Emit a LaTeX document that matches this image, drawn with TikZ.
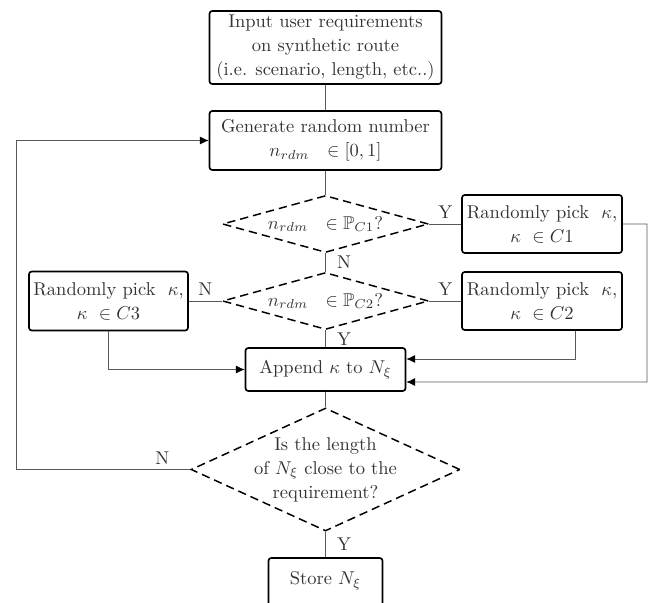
\documentclass[tikz,border=0pt]{standalone}
\usepackage{amssymb}
\usepackage{tikz}
\usetikzlibrary{arrows.meta, shapes.geometric, positioning}

\newcommand{\px}{0.54pt}
\tikzset{
  procbox/.style={draw, line width=0.9pt, rounded corners=1.5pt, align=center, text=black!80, inner sep=0pt},
  testdiam/.style={diamond, draw, dash pattern=on 4.5pt off 2.7pt, line width=0.8pt, align=center, text=black!80, inner sep=0pt},
  link/.style={draw=black!65, line width=0.45pt},
  lbl/.style={text=black!80, inner sep=1pt}
}

\begin{document}
\begin{tikzpicture}[x=\px, y=-\px, >={Latex[length=4.8pt, width=4.4pt, color=black]}]
                        \useasboundingbox (0,0) rectangle (651,602);
                        \node[procbox, minimum width=232*\px, minimum height=73*\px] (in) at (325.5, 47.5) {Input user requirements\\[1pt] on synthetic route\\[1pt] (i.e. scenario, length, etc..)};
                        \node[procbox, minimum width=232*\px, minimum height=59*\px] (gen) at (325.5, 140.5) {Generate random number\\[1pt] $n_{rdm}\ \ \in[0,1]$};
                        \node[testdiam, aspect=3.6, minimum width=206*\px, minimum height=57*\px] (d1) at (325.5, 224) {$n_{rdm}\ \ \in\mathbb{P}_{C1}$?};
                        \node[procbox, minimum width=160*\px, minimum height=58*\px] (c1) at (542, 224) {Randomly pick\ \ $\kappa$,\\[1pt] $\kappa\ \in C1$};
                        \node[testdiam, aspect=3.6, minimum width=206*\px, minimum height=57*\px] (d2) at (325.5, 301) {$n_{rdm}\ \ \in\mathbb{P}_{C2}$?};
                        \node[procbox, minimum width=160*\px, minimum height=58*\px] (c2) at (542, 301) {Randomly pick\ \ $\kappa$,\\[1pt] $\kappa\ \in C2$};
                        \node[procbox, minimum width=159*\px, minimum height=59*\px] (c3) at (108.5, 301) {Randomly pick\ \ $\kappa$,\\[1pt] $\kappa\ \in C3$};
                        \node[procbox, minimum width=160*\px, minimum height=43*\px] (app) at (325.5, 369.5) {Append $\kappa$ to $N_\xi$};
                        \node[testdiam, aspect=2.2, inner sep=-1.5pt, minimum width=269*\px, minimum height=123*\px] (d3) at (325.5, 469.5) {Is the length\\[1pt] of $N_\xi$\ close to the\\[1pt] requirement?};
                        \node[procbox, text depth=6pt, minimum width=114*\px, minimum height=52*\px] (store) at (325.5, 584) {Store $N_\xi$};
                        \coordinate (rc) at (647, 382);
                        \coordinate (lc) at (16, 140.5);
                        \draw[link]
                        (in) -- (gen)
                        (gen) -- (d1)
                        (app) -- (d3)
                        (d1.east) -- node[lbl, above=1.5pt] {Y} (c1.west)
                        (d2.east) -- node[lbl, above=1.5pt] {Y} (c2.west)
                        (d2.west) -- node[lbl, above=1.5pt] {N} (c3.east)
                        (d1.south) -- node[lbl, right=5pt] {N} (d2.north)
                        (d2.south) -- node[lbl, right=5pt] {Y} (app.north)
                        (d3.south) -- node[lbl, right=5pt] {Y} (store.north);
                        \draw[link, ->] (c3.south) |- (app.west);
                        \draw[link, ->] ([xshift=33*\px]c2.south) |- ([yshift=10.5*\px]app.east);
                        \draw[link, ->] (c1.east) -| (rc) -- ([yshift=-12.5*\px]app.east);
                        \draw[link, ->] (d3.west) -| node[lbl, above=1.5pt, pos=0.08] {N} (lc) -- (gen.west);
                    \end{tikzpicture}
\end{document}
